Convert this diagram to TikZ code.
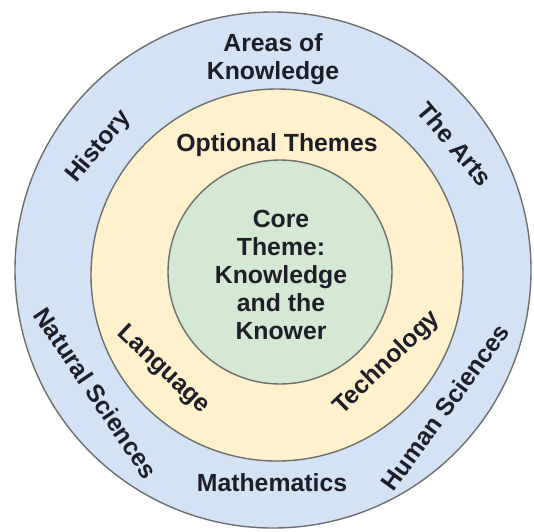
\documentclass[tikz,border=0pt]{standalone}
\usepackage{fontspec}
\setmainfont{Liberation Sans}
\begin{document}
\definecolor{ringblue}{HTML}{D3E3F5}
\definecolor{ringyellow}{HTML}{FFF1CC}
\definecolor{ringgreen}{HTML}{D5E8D4}
\definecolor{ringline}{HTML}{6E6E6E}
\definecolor{labelink}{HTML}{1E1E28}
\begin{tikzpicture}[x=1pt,y=-1pt,
  ring/.style={circle,draw=ringline,line width=1.4pt,inner sep=0pt},
  lbl/.style={font=\fontsize{24.8}{28}\selectfont\bfseries,text=labelink,
              align=center,inner sep=0pt}]
  \useasboundingbox (0,0) rectangle (534,531);
  % three concentric rings
  \node[ring,fill=ringblue,minimum size=516pt] (areas) at (273,270) {};
  \node[ring,fill=ringyellow,minimum size=372pt] (themes) at (277,275) {};
  \node[ring,fill=ringgreen,minimum size=224pt] (core) at (280,272) {};
  % core theme
  \node[lbl] (coretxt) at (281,275) {Core\\Theme:\\Knowledge\\and the\\Knower};
  % optional themes
  \node[lbl] (opt) at (277,145) {Optional Themes};
  \node[lbl,rotate=-43] (lang) at (163,370) {Language};
  \node[lbl,rotate=44] (tech) at (387,363) {Technology};
  % areas of knowledge
  \node[lbl] (aok) at (273,59) {Areas of\\Knowledge};
  \node[lbl,rotate=50] (hist) at (99,147) {History};
  \node[lbl,rotate=-50] (arts) at (455,144) {The Arts};
  \node[lbl,rotate=-56] (nat) at (96,393) {Natural Sciences};
  \node[lbl,rotate=54] (hum) at (445,407) {Human Sciences};
  \node[lbl] (math) at (272,483) {Mathematics};
\end{tikzpicture}
\end{document}
